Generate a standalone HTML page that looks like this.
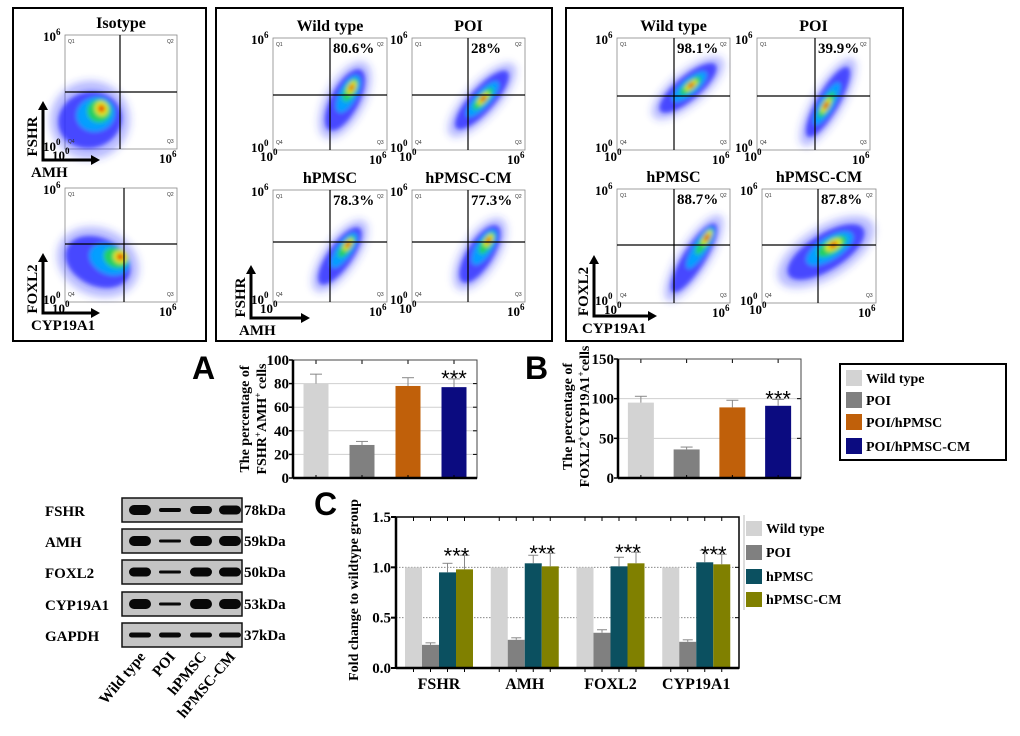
<!DOCTYPE html>
<html><head><meta charset="utf-8">
<style>
html,body{margin:0;padding:0;background:#fff;}
svg{display:block;font-family:"Liberation Serif",serif;}
</style></head>
<body>
<svg id="fig" width="1020" height="736" viewBox="0 0 1020 736" xmlns="http://www.w3.org/2000/svg">
<defs>
<filter id="blur" x="-50%" y="-50%" width="200%" height="200%"><feGaussianBlur stdDeviation="2.2"/></filter>
<filter id="blur2" x="-50%" y="-50%" width="200%" height="200%"><feGaussianBlur stdDeviation="4"/></filter>
</defs>
</svg>
<script>
// ---------- Chart data ----------
const groupsAB = ["Wild type","POI","POI/hPMSC","POI/hPMSC-CM"];
const valuesA = [80, 28, 78, 77];
const errorsA = [8, 3, 7, 7];
const ticksA = [0, 20, 40, 60, 80, 100];
const valuesB = [95, 36, 89, 91];
const errorsB = [8, 3, 9, 8];
const ticksB = [0, 50, 100, 150];
const colorsAB = ["#d3d3d3","#808080","#c0600a","#0b0b80"];

const genesC = ["FSHR","AMH","FOXL2","CYP19A1"];
const seriesC = ["Wild type","POI","hPMSC","hPMSC-CM"];
const wtC = [1, 1, 1, 1];
const poiC = [0.23, 0.28, 0.35, 0.26];
const hpmscC = [0.95, 1.04, 1.01, 1.05];
const cmC = [0.98, 1.01, 1.04, 1.03];
const poiErrC = [0.02, 0.02, 0.03, 0.02];
const hpmscErrC = [0.09, 0.08, 0.09, 0.12];
const cmErrC = [0.14, 0.13, 0.11, 0.10];
const ticksC = [0.0, 0.5, 1.0, 1.5];
const colorsC = ["#d3d3d3","#808080","#0b5060","#808000"];

const NS = "http://www.w3.org/2000/svg";
const svg = document.getElementById("fig");
function mk(tag, attrs, parent){
  const e = document.createElementNS(NS, tag);
  for (const k in attrs) e.setAttribute(k, attrs[k]);
  (parent || svg).appendChild(e);
  return e;
}
function txt(s, attrs, parent){ const t = mk("text", attrs, parent); t.textContent = s; return t; }

// ---------- Flow cytometry panels ----------
function panelBox(x,y,w,h,name){
  const r = mk("rect",{x:x,y:y,width:w,height:h,fill:"none",stroke:"#000","stroke-width":2});
  
  
}
panelBox(13,8,193,333,"isotype-panel");
panelBox(216,8,336,333,"fshr-amh-panel");
panelBox(566,8,337,333,"foxl2-cyp19a1-panel");

function blob(g, cx, cy, a, b, ang, hx, hy){
  const og = mk("g",{transform:`translate(${cx},${cy}) rotate(${ang})`,filter:"url(#blur2)"}, g);
  mk("ellipse",{cx:0,cy:0,rx:a*1.25,ry:b*1.4,fill:"#3040ff",opacity:0.35}, og);
  const bg = mk("g",{transform:`translate(${cx},${cy}) rotate(${ang})`,filter:"url(#blur)"}, g);
  mk("ellipse",{cx:0,cy:0,rx:a,ry:b,fill:"#2a2aff",opacity:0.8}, bg);
  mk("ellipse",{cx:hx*0.5,cy:hy*0.5,rx:a*0.6,ry:b*0.6,fill:"#00a8ff",opacity:0.9}, bg);
  mk("ellipse",{cx:hx*0.8,cy:hy*0.8,rx:a*0.38,ry:b*0.42,fill:"#20d060"}, bg);
  mk("ellipse",{cx:hx,cy:hy,rx:Math.max(a*0.2,3.5),ry:Math.max(b*0.26,3),fill:"#f0f000"}, bg);
  mk("ellipse",{cx:hx,cy:hy,rx:Math.max(a*0.11,2.4),ry:Math.max(b*0.14,2),fill:"#e01010"}, bg);
}
function pow(parent, x, y, exp){
  const t = mk("text",{x:x,y:y,"font-weight":"bold","font-size":13,fill:"#000"},parent);
  t.appendChild(document.createTextNode("10"));
  const s = mk("tspan",{dy:-6,"font-size":9},t);
  s.textContent = exp;
  return t;
}
function flow(p){
  const g = mk("g",{});
  
  
  mk("rect",{x:p.x,y:p.y,width:p.w,height:p.h,fill:"#fff",stroke:"#888","stroke-width":0.8}, g);
  p.blobs.forEach(b => blob(g, b[0], b[1], b[2], b[3], b[4], b[5], b[6]));
  mk("line",{x1:p.qx,y1:p.y,x2:p.qx,y2:p.y+p.h,stroke:"#000","stroke-width":1.2}, g);
  mk("line",{x1:p.x,y1:p.qy,x2:p.x+p.w,y2:p.qy,stroke:"#000","stroke-width":1.2}, g);
  const qs = {"font-family":"Liberation Sans, sans-serif","font-size":5,fill:"#333"};
  txt("Q1",Object.assign({x:p.x+3,y:p.y+8},qs),g);
  txt("Q2",Object.assign({x:p.x+p.w-10,y:p.y+8},qs),g);
  txt("Q4",Object.assign({x:p.x+3,y:p.y+p.h-6},qs),g);
  txt("Q3",Object.assign({x:p.x+p.w-10,y:p.y+p.h-6},qs),g);
  pow(g, p.x-22, p.y+6, "6");
  pow(g, p.x-22, p.y+p.h+2, "0");
  pow(g, p.x-13, p.y+p.h+11, "0");
  pow(g, p.x+p.w-18, p.y+p.h+14, "6");
  const t = txt(p.title,{x:p.x+p.w/2,y:p.y-7,"text-anchor":"middle","font-weight":"bold","font-size":16,fill:"#000"},g);
  
  
  if (p.pct){
    const pc = txt(p.pct,{x:p.qx+3,y:p.y+15,"font-weight":"bold","font-size":15,fill:"#000"},g);
    
    
  }
}
const plots = [
 {name:"isotype-fshr-amh-plot",title:"Isotype",pct:"",x:65,y:35,w:112,h:114,qx:120,qy:92,
  blobs:[[90,120,32,28,-15,14,-8]]},
 {name:"isotype-foxl2-cyp19a1-plot",title:"",pct:"",x:65,y:188,w:112,h:114,qx:124,qy:244,
  blobs:[[98,262,34,24,25,18,-14]]},
 {name:"fshr-wild-type-plot",title:"Wild type",pct:"80.6%",x:273,y:38,w:114,h:112,qx:330,qy:95,
  blobs:[[345,100,34,14,-62,14,0]]},
 {name:"fshr-poi-plot",title:"POI",pct:"28%",x:412,y:38,w:113,h:112,qx:468,qy:95,
  blobs:[[482,100,38,12,-48,2,0]]},
 {name:"fshr-hpmsc-plot",title:"hPMSC",pct:"78.3%",x:273,y:190,w:114,h:112,qx:330,qy:242,
  blobs:[[340,256,34,12,-55,14,0]]},
 {name:"fshr-hpmsc-cm-plot",title:"hPMSC-CM",pct:"77.3%",x:412,y:190,w:113,h:112,qx:468,qy:242,
  blobs:[[480,254,33,13,-58,16,0]]},
 {name:"foxl2-wild-type-plot",title:"Wild type",pct:"98.1%",x:617,y:38,w:113,h:112,qx:674,qy:96,
  blobs:[[688,88,36,12,-40,4,0]]},
 {name:"foxl2-poi-plot",title:"POI",pct:"39.9%",x:757,y:38,w:113,h:112,qx:815,qy:96,
  blobs:[[828,102,40,11,-60,-4,0]]},
 {name:"foxl2-hpmsc-plot",title:"hPMSC",pct:"88.7%",x:617,y:189,w:113,h:114,qx:674,qy:245,
  blobs:[[694,258,40,11,-58,24,0]]},
 {name:"foxl2-hpmsc-cm-plot",title:"hPMSC-CM",pct:"87.8%",x:762,y:189,w:114,h:114,qx:818,qy:245,
  blobs:[[826,252,44,18,-32,10,-2]]}
];
plots.forEach(flow);

function axisArrows(x0,ytop,ybot,xright,ylab,xlab,name){
  const g = mk("g",{});
  
  
  mk("polyline",{points:`${x0},${ytop+8} ${x0},${ybot} ${xright-8},${ybot}`,fill:"none",stroke:"#000","stroke-width":3},g);
  mk("path",{d:`M${x0-5},${ytop+9} L${x0},${ytop} L${x0+5},${ytop+9} z`,fill:"#000"},g);
  mk("path",{d:`M${xright-9},${ybot-5} L${xright},${ybot} L${xright-9},${ybot+5} z`,fill:"#000"},g);
  txt(ylab,{x:0,y:0,transform:`translate(${x0-6},${(ytop+ybot)/2+6}) rotate(-90)`,"text-anchor":"middle","font-weight":"bold","font-size":15},g);
  txt(xlab,{x:x0-12,y:ybot+17,"font-weight":"bold","font-size":15},g);
}
axisArrows(43,101,160,100,"FSHR","AMH","isotype-fshr-amh-axes");
axisArrows(43,253,313,100,"FOXL2","CYP19A1","isotype-foxl2-cyp19a1-axes");
axisArrows(251,265,318,310,"FSHR","AMH","fshr-amh-axes");
axisArrows(594,255,316,657,"FOXL2","CYP19A1","foxl2-cyp19a1-axes");

// ---------- Bar charts A and B ----------
function barChart(cfg){
  const g = mk("g",{});
  
  
  const ymax = cfg.ticks[cfg.ticks.length-1];
  const yS = v => cfg.y1 - (v/ymax)*(cfg.y1-cfg.y0);
  const step = (cfg.x1-cfg.x0)/cfg.values.length;
  const xS = i => cfg.x0 + step*(i+0.5);
  cfg.ticks.forEach(t=>{
    if (t>0 && t<ymax) mk("line",{x1:cfg.x0,x2:cfg.x1,y1:yS(t),y2:yS(t),stroke:"#cfcfcf","stroke-width":1},g);
    mk("line",{x1:cfg.x1,x2:cfg.x1-4,y1:yS(t),y2:yS(t),stroke:"#000"},g);
    mk("line",{x1:cfg.x0,x2:cfg.x0-4,y1:yS(t),y2:yS(t),stroke:"#000","stroke-width":1.5},g);
    const tl = txt(String(t),{x:cfg.x0-4,y:yS(t)+5,"text-anchor":"end","font-weight":"bold","font-size":15},g);
    
    
  });
  cfg.values.forEach((v,i)=>{
    const bx = xS(i)-cfg.bw/2;
    const b = mk("rect",{x:bx,y:yS(v),width:cfg.bw,height:yS(0)-yS(v),fill:cfg.colors[i]},g);
    
    
    const e = v + cfg.errors[i];
    mk("line",{x1:xS(i),x2:xS(i),y1:yS(v),y2:yS(e),stroke:"#888","stroke-width":1},g);
    mk("line",{x1:xS(i)-6,x2:xS(i)+6,y1:yS(e),y2:yS(e),stroke:"#888","stroke-width":1},g);
    mk("line",{x1:xS(i),x2:xS(i),y1:cfg.y0,y2:cfg.y0+4,stroke:"#000"},g);
    mk("line",{x1:xS(i),x2:xS(i),y1:cfg.y1,y2:cfg.y1-3,stroke:"#000"},g);
  });
  const lastI = cfg.values.length-1;
  const st = txt("***",{x:xS(lastI),y:yS(cfg.values[lastI]+cfg.errors[lastI])+7,"text-anchor":"middle","font-size":22,"font-family":"Liberation Sans, sans-serif"},g);
  
  
  mk("rect",{x:cfg.x0,y:cfg.y0,width:cfg.x1-cfg.x0,height:cfg.y1-cfg.y0,fill:"none",stroke:"#444","stroke-width":1},g);
  mk("line",{x1:cfg.x0,x2:cfg.x0,y1:cfg.y0,y2:cfg.y1,stroke:"#000","stroke-width":2.5},g);
  mk("line",{x1:cfg.x0,x2:cfg.x1,y1:cfg.y1,y2:cfg.y1,stroke:"#000","stroke-width":2.5},g);
  const yc = (cfg.y0+cfg.y1)/2 + cfg.ytoff;
  const t1 = mk("text",{transform:`translate(${cfg.tx},${yc}) rotate(-90)`,"text-anchor":"middle","font-weight":"bold","font-size":14},g);
  t1.textContent = "The percentage of";
  
  
  const t2 = mk("text",{transform:`translate(${cfg.tx+17},${yc}) rotate(-90)`,"text-anchor":"middle","font-weight":"bold","font-size":14},g);
  t2.innerHTML = cfg.title2;
  const L = txt(cfg.letter,{x:cfg.lx,y:cfg.ly,"font-family":"Liberation Sans, sans-serif","font-weight":"bold","font-size":32},g);
  
  
}
barChart({name:"chart-a",letter:"A",lx:192,ly:379,x0:293,x1:477,y0:360,y1:478,values:valuesA,errors:errorsA,ticks:ticksA,colors:colorsAB,groups:groupsAB,bw:25,tx:249,ytoff:0,
  title2:'FSHR<tspan baseline-shift="super" font-size="9">+</tspan>AMH<tspan baseline-shift="super" font-size="9">+</tspan> cells'});
barChart({name:"chart-b",letter:"B",lx:525,ly:379,x0:618,x1:801,y0:359,y1:478,values:valuesB,errors:errorsB,ticks:ticksB,colors:colorsAB,groups:groupsAB,bw:26,tx:572,ytoff:-2,
  title2:'FOXL2<tspan baseline-shift="super" font-size="9">+</tspan>CYP19A1<tspan baseline-shift="super" font-size="9">+</tspan>cells'});

// Legend AB
(function(){
  const g = mk("g",{});
  
  
  mk("rect",{x:840,y:364,width:166,height:96,fill:"#fff",stroke:"#000","stroke-width":2},g);
  const ys = [378,400,422,446];
  groupsAB.forEach((n,i)=>{
    const sw = mk("rect",{x:846,y:ys[i]-8,width:16,height:16,fill:colorsAB[i]},g);
    
    
    const t = txt(n,{x:866,y:ys[i]+5,"font-weight":"bold","font-size":14},g);
    
    
  });
})();

// ---------- Chart C ----------
(function(){
  const g = mk("g",{});
  
  
  const x0=396,x1=739,y0=517,y1=668,ymax=1.5;
  const yS = v => y1 - (v/ymax)*(y1-y0);
  const gw = (x1-x0)/genesC.length, bw = 17, off = 9;
  const vals = [wtC,poiC,hpmscC,cmC];
  const errs = [null,poiErrC,hpmscErrC,cmErrC];
  ticksC.forEach(t=>{
    if (t>0 && t<ymax) mk("line",{x1:x0,x2:x1,y1:yS(t),y2:yS(t),stroke:"#777","stroke-dasharray":"1.5,1.5","stroke-width":0.8},g);
    mk("line",{x1:x0,x2:x0-5,y1:yS(t),y2:yS(t),stroke:"#000","stroke-width":2},g);
    mk("line",{x1:x1,x2:x1-4,y1:yS(t),y2:yS(t),stroke:"#000"},g);
    const tl = txt(t.toFixed(1),{x:x0-5,y:yS(t)+5,"text-anchor":"end","font-weight":"bold","font-size":15},g);
    
    
  });
  genesC.forEach((gn,gi)=>{
    const gx = x0 + gi*gw + off;
    vals.forEach((arr,si)=>{
      const bx = gx + si*bw, v = arr[gi];
      const b = mk("rect",{x:bx,y:yS(v),width:bw,height:yS(0)-yS(v),fill:colorsC[si]},g);
      
      
      if (errs[si]){
        const e = v + errs[si][gi], cx = bx + bw/2;
        mk("line",{x1:cx,x2:cx,y1:yS(v),y2:yS(e),stroke:"#888"},g);
        mk("line",{x1:cx-5,x2:cx+5,y1:yS(e),y2:yS(e),stroke:"#888"},g);
      }
      mk("line",{x1:bx+bw/2,x2:bx+bw/2,y1:y1,y2:y1+4,stroke:"#000"},g);
      mk("line",{x1:bx+bw/2,x2:bx+bw/2,y1:y0,y2:y0+4,stroke:"#000"},g);
    });
    const topE = cmC[gi] + cmErrC[gi];
    const st = txt("***",{x:gx+3.5*bw-8,y:yS(topE)+8,"text-anchor":"middle","font-size":22,"font-family":"Liberation Sans, sans-serif"},g);
    
    
    const xl = txt(gn,{x:gx+2*bw,y:y1+21,"text-anchor":"middle","font-weight":"bold","font-size":16},g);
    
    
  });
  mk("rect",{x:x0,y:y0,width:x1-x0,height:y1-y0,fill:"none",stroke:"#000","stroke-width":1.5},g);
  mk("line",{x1:x0,x2:x0,y1:y0,y2:y1,stroke:"#000","stroke-width":2.5},g);
  mk("line",{x1:x0,x2:x1,y1:y1,y2:y1,stroke:"#000","stroke-width":2.5},g);
  const yt = mk("text",{transform:`translate(${358},${590}) rotate(-90)`,"text-anchor":"middle","font-weight":"bold","font-size":14},g);
  yt.textContent = "Fold change to wildtype group";
  
  
  const L = txt("C",{x:314,y:515,"font-family":"Liberation Sans, sans-serif","font-weight":"bold","font-size":32},g);
  
  
  const ys = [528,552,576,599];
  mk("line",{x1:744,x2:744,y1:515,y2:610,stroke:"#bbb"},g);
  seriesC.forEach((n,i)=>{
    const sw = mk("rect",{x:746,y:ys[i]-7,width:16,height:15,fill:colorsC[i]},g);
    
    
    const t = txt(n,{x:766,y:ys[i]+5,"font-weight":"bold","font-size":14},g);
    
    
  });
})();

// ---------- Western blot ----------
(function(){
  const g = mk("g",{});
  
  
  const proteins = ["FSHR","AMH","FOXL2","CYP19A1","GAPDH"];
  const kda = ["78kDa","59kDa","50kDa","53kDa","37kDa"];
  const rowsY = [498,529,560,592,623];
  const bandW = [[10,4,8,9],[10,3,10,10],[9,3,9,9],[10,3,10,10],[5,5,5,5]];
  const lanesX = [140,170,201,230];
  proteins.forEach((p,i)=>{
    const y = rowsY[i];
    mk("rect",{x:122,y:y,width:120,height:24,fill:"#c4c4c4",stroke:"#111","stroke-width":1.5},g);
    lanesX.forEach((lx,j)=>{
      const h = bandW[i][j];
      mk("rect",{x:lx-11,y:y+12-h/2,width:22,height:h,rx:h/2,fill:"#080808"},g);
    });
    const l = txt(p,{x:45,y:y+18,"font-weight":"bold","font-size":15},g);
    
    
    const k = txt(kda[i],{x:244,y:y+17,"font-weight":"bold","font-size":15},g);
    
    
  });
  const lanes = ["Wild type","POI","hPMSC","hPMSC-CM"];
  lanes.forEach((n,j)=>{
    const t = txt(n,{transform:`translate(${lanesX[j]+6},${657}) rotate(-50)`,"text-anchor":"end","font-weight":"bold","font-size":15},g);
    
    
  });
})();
</script>
</body></html>
